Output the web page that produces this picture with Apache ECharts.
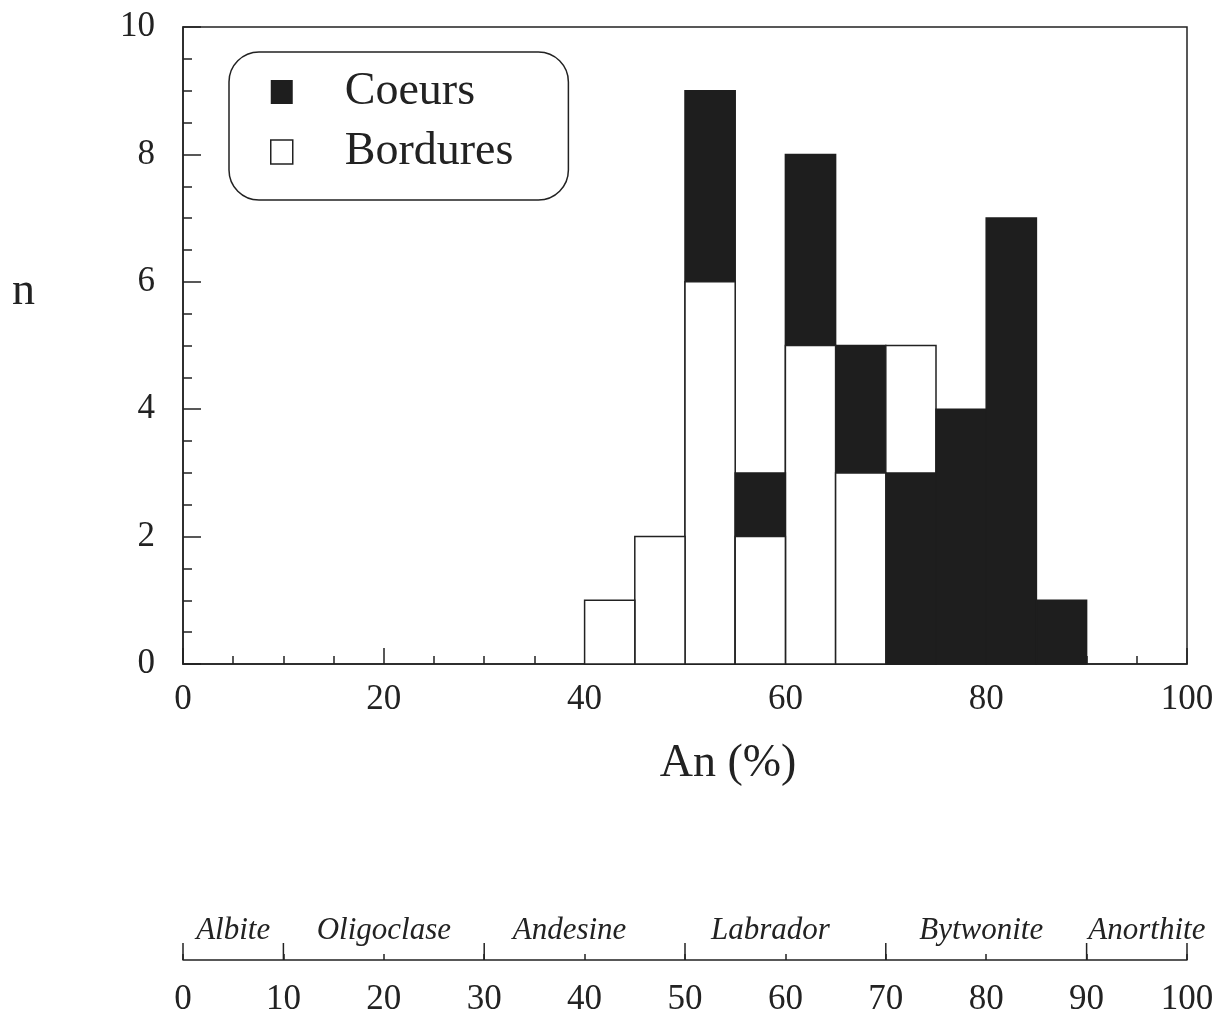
<!DOCTYPE html>
<html>
<head>
<meta charset="utf-8">
<script src="https://cdn.jsdelivr.net/npm/echarts@6/dist/echarts.min.js"></script>
<style>
html,body{margin:0;padding:0;background:#fff;}
#chart{width:1226px;height:1023px;}
</style>
</head>
<body>
<div id="chart"></div>
<script>
// ---- data ----
const binStarts = [40, 45, 50, 55, 60, 65, 70, 75, 80, 85];
const binWidth = 5;
const coeurs   = [0, 0, 9, 3, 8, 5, 3, 4, 7, 1];
const bordures = [1, 2, 6, 2, 5, 3, 5, 0, 0, 0];
const mainTicks = [0, 20, 40, 60, 80, 100];
const scaleTicks = [0, 10, 20, 30, 40, 50, 60, 70, 80, 90, 100];
const mineralBounds = [0, 10, 30, 50, 70, 90, 100];
const mineralNames = ['Albite', 'Oligoclase', 'Andesine', 'Labrador', 'Bytwonite', 'Anorthite'];
const mineralCenters = [5, 20, 38.5, 58.5, 79.5, 96];

const FONT = '"Liberation Serif", "DejaVu Serif", serif';
const INK = '#222';

const chart = echarts.init(document.getElementById('chart'), null, {renderer: 'canvas'});

function barRender(fill, stroke) {
  return function (params, api) {
    const h = api.value(2);
    if (!h) return null;
    const p0 = api.coord([api.value(0), 0]);
    const p1 = api.coord([api.value(1), h]);
    return {
      type: 'rect',
      z2: 100 - h * 5,
      shape: {x: p0[0], y: p1[1], width: p1[0] - p0[0], height: p0[1] - p1[1]},
      style: {fill: fill, stroke: stroke, lineWidth: 1.5}
    };
  };
}

const option = {
  backgroundColor: '#fff',
  animation: false,
  grid: [
    {left: 183, right: 39, top: 27, bottom: 359, show: true, borderColor: INK, borderWidth: 1.5, backgroundColor: 'transparent'},
    {left: 183, right: 39, top: 900, height: 60, show: false}
  ],
  legend: {
    selectedMode: false,
    orient: 'vertical',
    left: 229, top: 52,
    padding: [17, 55, 25, 41],
    itemWidth: 22, itemHeight: 24, itemGap: 14,
    borderColor: INK, borderWidth: 1.5, borderRadius: 30,
    textStyle: {fontFamily: FONT, fontSize: 46, color: INK, lineHeight: 46, padding: [0, 0, 0, 47]},
    data: [
      {name: 'Coeurs', icon: 'rect', itemStyle: {color: '#1e1e1e', borderWidth: 0}},
      {name: 'Bordures', icon: 'rect', itemStyle: {color: '#fff', borderColor: INK, borderWidth: 1.5}}
    ]
  },
  xAxis: [
    {
      gridIndex: 0, type: 'value', min: 0, max: 100, interval: 20,
      axisLine: {show: true, lineStyle: {color: INK, width: 1.5}},
      axisTick: {show: true, inside: true, length: 16, lineStyle: {color: INK, width: 1.5}},
      minorTick: {show: true, splitNumber: 4, length: 8, lineStyle: {color: INK, width: 1.5}},
      splitLine: {show: false}, minorSplitLine: {show: false},
      axisLabel: {fontFamily: FONT, fontSize: 35, color: INK, margin: 18,
        customValues: mainTicks}
    },
    {
      gridIndex: 1, type: 'value', min: 0, max: 100, interval: 10,
      axisLine: {show: true, lineStyle: {color: INK, width: 1.5}},
      axisTick: {show: true, inside: true, length: 6, lineStyle: {color: INK, width: 1.5}},
      splitLine: {show: false},
      axisLabel: {fontFamily: FONT, fontSize: 35, color: INK, margin: 22}
    }
  ],
  yAxis: [
    {
      gridIndex: 0, type: 'value', min: 0, max: 10, interval: 2,
      axisLine: {show: true, lineStyle: {color: INK, width: 1.5}},
      axisTick: {show: true, inside: true, length: 18, lineStyle: {color: INK, width: 1.5}},
      minorTick: {show: true, splitNumber: 4, length: 9, lineStyle: {color: INK, width: 1.5}},
      splitLine: {show: false}, minorSplitLine: {show: false},
      axisLabel: {fontFamily: FONT, fontSize: 35, color: INK, margin: 28}
    },
    {gridIndex: 1, type: 'value', min: 0, max: 1, show: false}
  ],
  graphic: [
    {type: 'text', x: 12, y: 292, style: {text: 'n', font: '46px ' + FONT, fill: INK, verticalAlign: 'middle'}},
    {type: 'text', x: 728, y: 764, style: {text: 'An (%)', font: '46px ' + FONT, fill: INK, align: 'center', verticalAlign: 'middle'}}
  ],
  series: [
    {
      name: 'Coeurs', type: 'custom', xAxisIndex: 0, yAxisIndex: 0,
      encode: {x: [0, 1], y: 2},
      data: binStarts.map((b, i) => [b, b + binWidth, coeurs[i]]),
      renderItem: barRender('#1e1e1e', '#1e1e1e')
    },
    {
      name: 'Bordures', type: 'custom', xAxisIndex: 0, yAxisIndex: 0,
      encode: {x: [0, 1], y: 2},
      data: binStarts.map((b, i) => [b, b + binWidth, bordures[i]]),
      renderItem: barRender('#ffffff', INK)
    },
    {
      name: 'bounds', type: 'custom', xAxisIndex: 1, yAxisIndex: 1,
      encode: {x: 0},
      data: mineralBounds.map(b => [b]),
      renderItem: function (params, api) {
        const p = api.coord([api.value(0), 0]);
        return {type: 'line', shape: {x1: p[0], y1: p[1], x2: p[0], y2: p[1] - 17},
          style: {stroke: INK, lineWidth: 1.5}};
      }
    },
    {
      name: 'minerals', type: 'custom', xAxisIndex: 1, yAxisIndex: 1,
      encode: {x: 0},
      data: mineralCenters.map((c, i) => [c, mineralNames[i]]),
      renderItem: function (params, api) {
        const p = api.coord([api.value(0), 0]);
        return {type: 'text', x: p[0], y: p[1] - 29,
          style: {text: mineralNames[params.dataIndex], fontFamily: FONT, fontStyle: 'italic',
            fontSize: 31, fill: INK, align: 'center', verticalAlign: 'middle'}};
      }
    }
  ]
};
chart.setOption(option);
</script>
</body>
</html>
